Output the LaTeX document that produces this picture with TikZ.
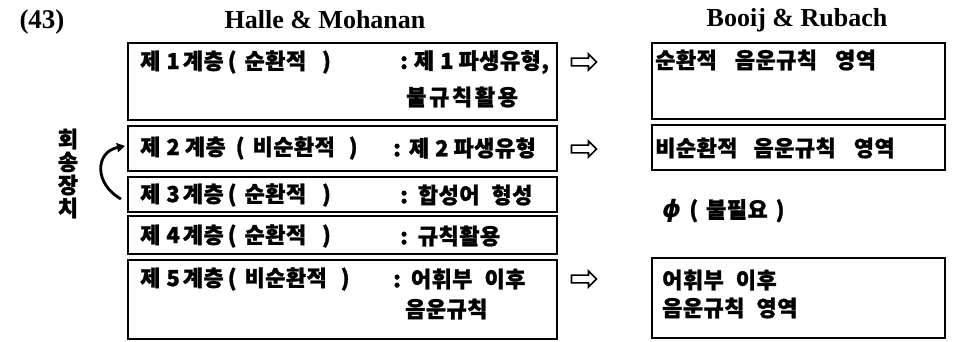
\documentclass[tikz,border=0pt]{standalone}
\usepackage{fontspec}
\setmainfont{Liberation Serif}
\newfontfamily\kr{Noto Sans CJK KR}[LetterSpace=2,BoldFeatures={FakeBold=1.2}]
\newfontfamily\dv{DejaVu Sans}
\newcommand{\wide}{\addfontfeature{LetterSpace=12}}
\usetikzlibrary{shapes.arrows,arrows.meta}
\begin{document}
\begin{tikzpicture}[x=1pt,y=-1pt,
  box/.style={draw,line width=1.5pt,inner sep=0pt},
  kt/.style={font=\kr\bfseries\fontsize{22}{24}\selectfont,inner sep=0pt,anchor=west},
  kv/.style={font=\kr\bfseries\fontsize{22}{24}\selectfont,inner sep=0pt},
  head/.style={font=\bfseries\fontsize{26}{28}\selectfont,inner sep=0pt},
  hollow/.style={single arrow,draw,line width=1.6pt,minimum width=16pt,
    minimum height=25pt,single arrow head extend=4pt,inner sep=3pt,
    single arrow tip angle=90}]
\useasboundingbox (0,0) rectangle (955,341);

% headings
\node[head,font=\bfseries\fontsize{27}{28}\selectfont] (num) at (42,22) {(43)};
\node[head] (hm) at (325,20) {Halle \& Mohanan};
\node[head] (br) at (797,20) {Booij \& Rubach};

% left column: the five strata
\node[box,minimum width=429pt,minimum height=77pt] (L1) at (342.5,81.5) {};
\node[box,minimum width=429pt,minimum height=45pt] (L2) at (342.5,148.5) {};
\node[box,minimum width=429pt,minimum height=35pt] (L3) at (342.5,194.5) {};
\node[box,minimum width=429pt,minimum height=38pt] (L4) at (342.5,235) {};
\node[box,minimum width=429pt,minimum height=79pt] (L5) at (342.5,299.5) {};

\node[kt] (t1a) at (140,62) {제\hspace{6pt}1\hspace{3pt}계층\hspace{4pt}(\hspace{8pt}순환적\hspace{16pt})};
\node[kt] (t1b) at (400,62) {:\hspace{6pt}제\hspace{6pt}1\hspace{5pt}파생유형,};
\node[kt] (t1c) at (406,97) {\wide 불규칙활용};
\node[kt] (t2a) at (140,148) {제\hspace{6pt}2\hspace{5pt}계층\hspace{10pt}(\hspace{8pt}비순환적\hspace{14pt})};
\node[kt] (t2b) at (393,148) {:\hspace{8pt}제\hspace{6pt}2\hspace{5pt}파생유형};
\node[kt] (t3a) at (140,195) {제\hspace{6pt}3\hspace{3pt}계층\hspace{4pt}(\hspace{8pt}순환적\hspace{16pt})};
\node[kt] (t3b) at (400,195) {:\hspace{10pt}합성어\hspace{12pt}형성};
\node[kt] (t4a) at (140,236) {제\hspace{6pt}4\hspace{3pt}계층\hspace{4pt}(\hspace{8pt}순환적\hspace{16pt})};
\node[kt] (t4b) at (400,236) {:\hspace{10pt}규칙활용};
\node[kt] (t5a) at (140,279) {제\hspace{6pt}5\hspace{3pt}계층\hspace{4pt}(\hspace{8pt}비순환적\hspace{14pt})};
\node[kt] (t5b) at (393,279) {:\hspace{10pt}어휘부\hspace{12pt}이후};
\node[kt] (t5c) at (405,309) {음운규칙};

% right column
\node[box,minimum width=293pt,minimum height=76pt] (R1) at (798.5,81) {};
\node[box,minimum width=293pt,minimum height=45pt] (R2) at (798.5,147.5) {};
\node[box,minimum width=293pt,minimum height=80pt] (R3) at (798.5,298) {};

\node[kt] (r1) at (655,60) {순환적\hspace{18pt}음운규칙\hspace{18pt}영역};
\node[kt] (r2) at (655,148) {비순환적\hspace{16pt}음운규칙\hspace{18pt}영역};
\node[kt] (r3a) at (662,280) {어휘부\hspace{12pt}이후};
\node[kt] (r3b) at (662,308) {음운규칙\hspace{12pt}영역};
\node[kt] (phi) at (662,211) {{\dv\bfseries\itshape\fontsize{24}{24}\selectfont ϕ}\hspace{8pt}(\hspace{8pt}불필요\hspace{8pt})};

% correspondence arrows
\node[hollow] (a1) at (582,62) {};
\node[hollow] (a2) at (582,149) {};
\node[hollow] (a3) at (582,279) {};

% loop back from stratum 3 to stratum 2, with its vertical label
\node[kv] (v1) at (68,139) {회};
\node[kv] (v2) at (68,162) {송};
\node[kv] (v3) at (68,185) {장};
\node[kv] (v4) at (68,208) {치};
\coordinate (lb) at (121,199);
\coordinate (lt) at (125,146);
\draw[line width=2.8pt,-{Triangle[length=8pt,width=9pt]}]
  (lb) .. controls (94,184) and (95,152) .. (lt);
\end{tikzpicture}
\end{document}
